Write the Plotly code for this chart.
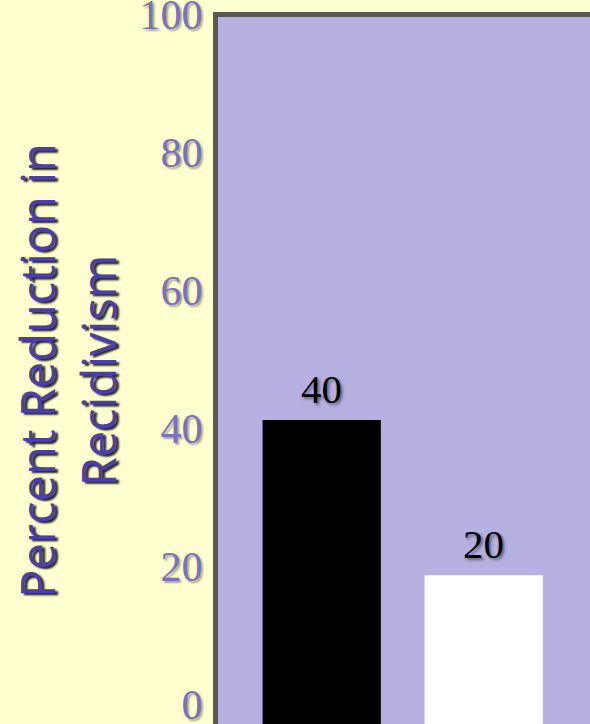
import plotly.graph_objects as go

# ---- data ----
categories = ["Group A", "Group B"]
values = [41.6, 19.1]            # bar heights as read against the y axis
value_labels = ["40", "20"]      # labels printed above the bars
bar_colors = ["#000000", "#FFFFFF"]
y_ticks = [0, 20, 40, 60, 80, 100]
y_title = "Percent Reduction in<br>Recidivism"

# ---- style ----
PAPER = "#FFFFCF"
PLOT = "#B7B1E1"
LINE = "#595959"
TICK_COLOR = "#7670C8"
TITLE_COLOR = "#4A3EAE"
Y_BOTTOM = -2.45  # visible bottom of the (cropped) value axis

fig = go.Figure(
    go.Bar(
        x=categories,
        y=[v - Y_BOTTOM for v in values],
        base=Y_BOTTOM,
        width=0.73,
        marker=dict(color=bar_colors, line=dict(width=0)),
        hoverinfo="skip",
    )
)

for c, v, lab in zip(categories, values, value_labels):
    fig.add_annotation(
        x=c, y=v, text=lab, showarrow=False, yanchor="bottom", yshift=6,
        font=dict(family="Liberation Serif", size=41, color="#000000",
                  shadow="2px 2px 3px rgba(60,60,90,0.7)"),
    )

fig.update_layout(
    width=590, height=724,
    margin=dict(l=218, r=0, t=17, b=0, autoexpand=False),
    paper_bgcolor=PAPER,
    plot_bgcolor=PLOT,
    showlegend=False,
    xaxis=dict(
        type="category", range=[-0.64, 1.656], side="top", automargin=False,
        showline=True, linewidth=5, linecolor=LINE,
        showticklabels=False, showgrid=False, zeroline=False, ticks="",
    ),
    yaxis=dict(
        range=[Y_BOTTOM, 100], tickvals=y_ticks, automargin=False,
        showline=True, linewidth=5, linecolor=LINE,
        showgrid=False, zeroline=False, ticks="",
        ticklabelstandoff=2, ticklabelshift=-3, ticklabeloverflow="allow",
        tickfont=dict(family="Liberation Serif", size=42, color=TICK_COLOR,
                      shadow="2px 2px 2px rgba(150,150,100,0.8)"),
        title=dict(
            text=y_title, standoff=10,
            font=dict(family="Open Sans", size=47, color=TITLE_COLOR,
                      shadow="-2px 3px 2px rgba(0,0,0,0.85)"),
        ),
    ),
)

fig.write_html("out.html")
